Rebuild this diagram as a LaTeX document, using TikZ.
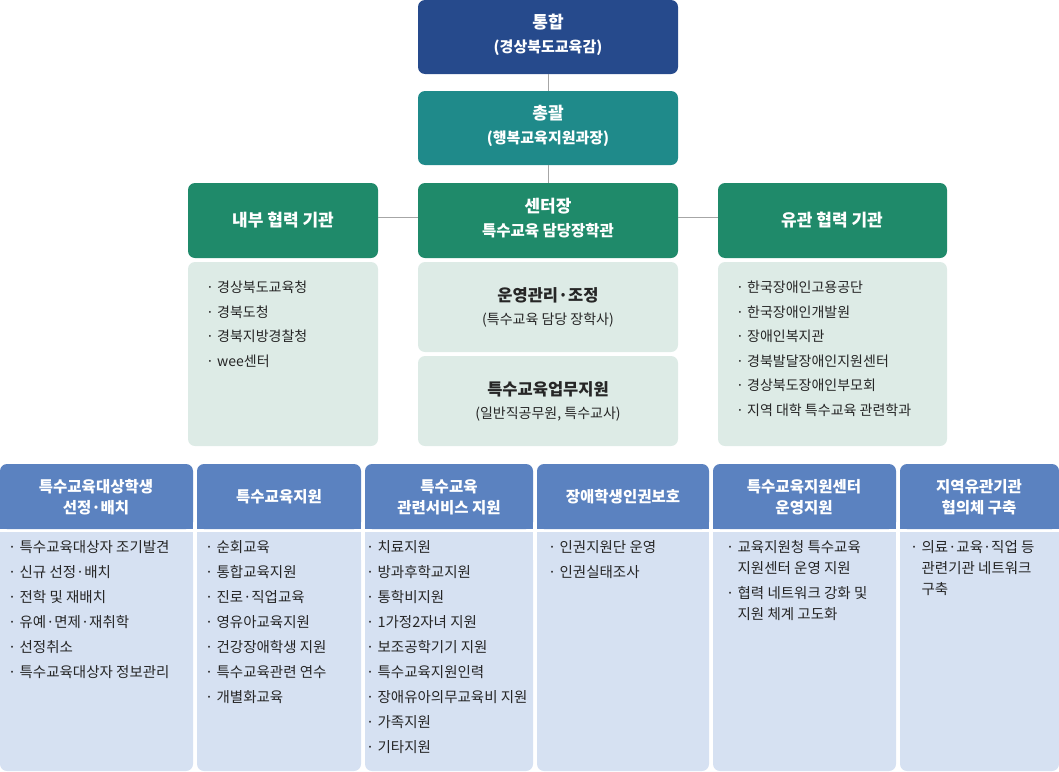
\documentclass[tikz,border=0pt]{standalone}
\usepackage{fontspec}
\setmainfont{Noto Sans CJK KR}
\begin{document}
\begin{tikzpicture}[x=1pt,y=-1pt,
  hdtext/.style={text=white,align=center,font=\bfseries\fontsize{17}{24}\selectfont},
  lst/.style={anchor=north west,align=left,inner sep=0pt,text=black!85,font=\fontsize{14.5}{25}\selectfont},
  gl/.style={anchor=north west,align=left,inner sep=0pt,text=black!85,font=\fontsize{14}{24.5}\selectfont},
  conn/.style={draw=black!35,line width=0.8pt}]
\definecolor{navy}{HTML}{264A8C}
\definecolor{teal}{HTML}{1F8A8A}
\definecolor{grn}{HTML}{1F8A6A}
\definecolor{lgrn}{HTML}{DDEBE6}
\definecolor{bhd}{HTML}{5B82C0}
\definecolor{bbd}{HTML}{D6E1F2}
\useasboundingbox (0,0) rectangle (1059,771);
% top boxes
\fill[navy,rounded corners=7pt] (418,0) rectangle (678,74);
\node[hdtext] (t1) at (548,35) {통합\\{\fontsize{15}{24}\selectfont(경상북도교육감)}};
\fill[teal,rounded corners=7pt] (418,91) rectangle (678,165);
\node[hdtext] (t2) at (548,126) {총괄\\{\fontsize{15}{24}\selectfont(행복교육지원과장)}};
\fill[grn,rounded corners=7pt] (418,183) rectangle (678,258);
\node[hdtext] (t3) at (548,218) {센터장\\{\fontsize{15.5}{24}\selectfont 특수교육 담당장학관}};
\fill[grn,rounded corners=7pt] (188,183) rectangle (378,258);
\node[hdtext] (t4) at (283,220) {내부 협력 기관};
\fill[grn,rounded corners=7pt] (718,183) rectangle (947,258);
\node[hdtext] (t5) at (832,220) {유관 협력 기관};
\coordinate (a1) at (548,74); \coordinate (a2) at (548,91);
\coordinate (b1) at (548,165); \coordinate (b2) at (548,183);
\coordinate (c1) at (378,217); \coordinate (c2) at (418,217);
\coordinate (d1) at (678,217); \coordinate (d2) at (718,217);
\draw[conn] (a1) -- (a2); \draw[conn] (b1) -- (b2);
\draw[conn] (c1) -- (c2); \draw[conn] (d1) -- (d2);
% light green boxes
\fill[lgrn,rounded corners=7pt] (188,262) rectangle (378,446);
\fill[lgrn,rounded corners=7pt] (418,262) rectangle (678,352);
\fill[lgrn,rounded corners=7pt] (418,356) rectangle (678,446);
\fill[lgrn,rounded corners=7pt] (718,262) rectangle (947,446);
\node[gl] (g1) at (206,281) {· 경상북도교육청\\· 경북도청\\· 경북지방경찰청\\· wee센터};
\node[align=center,text=black!85,font=\fontsize{14}{23}\selectfont] (m1) at (548,307) {{\bfseries\fontsize{16.5}{23}\selectfont 운영관리·조정}\\(특수교육 담당 장학사)};
\node[align=center,text=black!85,font=\fontsize{14}{23}\selectfont] (m2) at (548,401) {{\bfseries\fontsize{16.5}{23}\selectfont 특수교육업무지원}\\(일반직공무원, 특수교사)};
\node[gl] (g2) at (736,281) {· 한국장애인고용공단\\· 한국장애인개발원\\· 장애인복지관\\· 경북발달장애인지원센터\\· 경상북도장애인부모회\\· 지역 대학 특수교육 관련학과};
% bottom columns
\foreach \xa/\xb [count=\i] in {0/193,197/361,365/533,537/709,713/896,900/1059}{
  \fill[bhd,rounded corners=7pt] (\xa,464) -- (\xa,529) -- (\xb,529) -- (\xb,464) -- cycle;
  \fill[bhd] (\xa,490) rectangle (\xb,529);
  \fill[bbd,rounded corners=7pt] (\xa,560) -- (\xa,771) -- (\xb,771) -- (\xb,560);
  \fill[bbd] (\xa,532) rectangle (\xb,600);
}
\tikzset{bh/.style={hdtext,font=\bfseries\fontsize{15.5}{21}\selectfont}}
\node[bh] (h1) at (96,497) {특수교육대상학생\\선정·배치};
\node[bh] (h2) at (279,497) {특수교육지원};
\node[bh] (h3) at (449,497) {특수교육\\관련서비스 지원};
\node[bh] (h4) at (623,497) {장애학생인권보호};
\node[bh] (h5) at (804,497) {특수교육지원센터\\운영지원};
\node[bh] (h6) at (979,497) {지역유관기관\\협의체 구축};
\node[lst] (l1) at (8,540) {· 특수교육대상자 조기발견\\· 신규 선정·배치\\· 전학 및 재배치\\· 유예·면제·재취학\\· 선정취소\\· 특수교육대상자 정보관리};
\node[lst] (l2) at (205,540) {· 순회교육\\· 통합교육지원\\· 진로·직업교육\\· 영유아교육지원\\· 건강장애학생 지원\\· 특수교육관련 연수\\· 개별화교육};
\node[lst] (l3) at (366,540) {· 치료지원\\· 방과후학교지원\\· 통학비지원\\· 1가정2자녀 지원\\· 보조공학기기 지원\\· 특수교육지원인력\\· 장애유아의무교육비 지원\\· 가족지원\\· 기타지원};
\node[lst] (l4) at (548,540) {· 인권지원단 운영\\· 인권실태조사};
\node[lst,font=\fontsize{14.5}{21}\selectfont] (l5) at (726,540) {· 교육지원청 특수교육\\\phantom{· }지원센터 운영 지원\\[4pt]· 협력 네트워크 강화 및\\\phantom{· }지원 체계 고도화};
\node[lst,font=\fontsize{14.5}{21}\selectfont] (l6) at (910,540) {· 의료·교육·직업 등\\\phantom{· }관련기관 네트워크\\\phantom{· }구축};
\end{tikzpicture}
\end{document}
